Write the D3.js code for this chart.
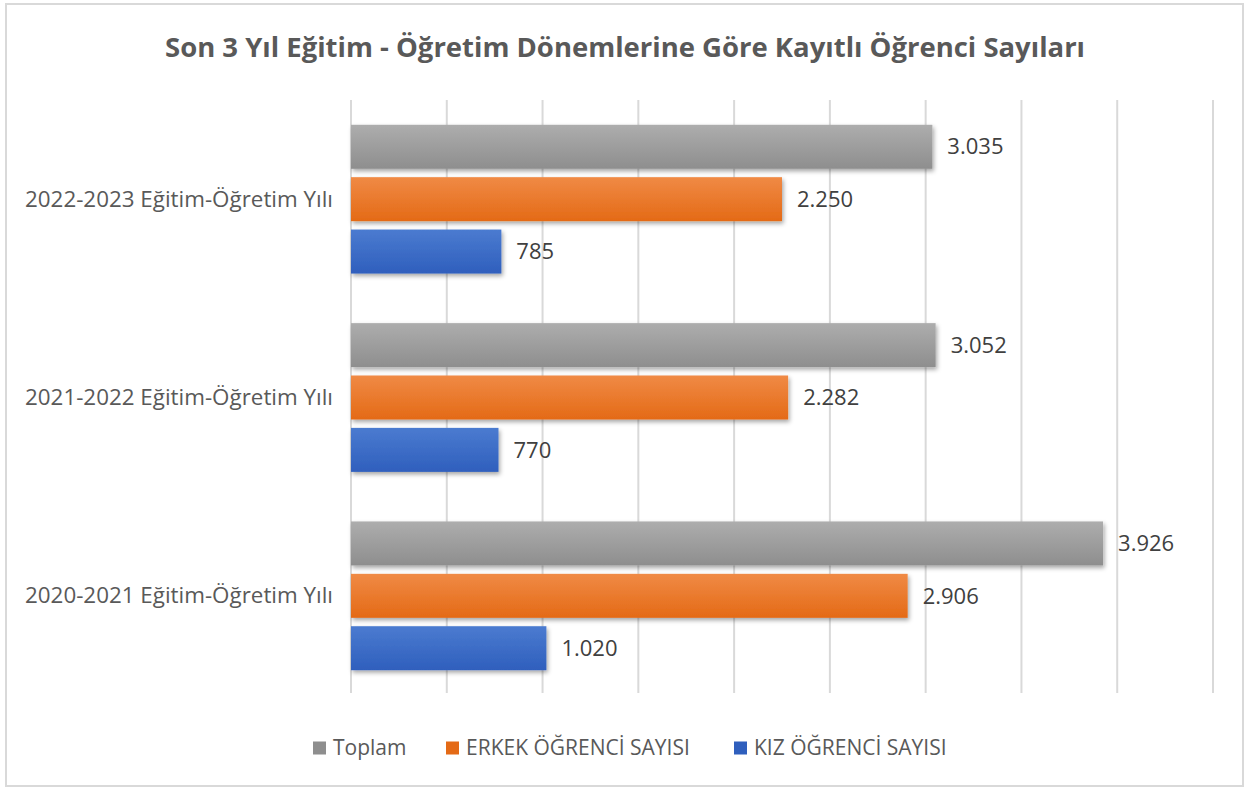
<!DOCTYPE html>
<html>
<head>
<meta charset="utf-8">
<script src="https://cdn.jsdelivr.net/npm/d3@7"></script>
<style>
  body { margin: 0; background: #fff; }
  text { font-family: "Open Sans", sans-serif; }
</style>
</head>
<body>
<div id="chart"></div>
<script>
var categories = ["2022-2023 Eğitim-Öğretim Yılı", "2021-2022 Eğitim-Öğretim Yılı", "2020-2021 Eğitim-Öğretim Yılı"];
var seriesNames = ["Toplam", "ERKEK ÖĞRENCİ SAYISI", "KIZ ÖĞRENCİ SAYISI"];
var toplam = [3035, 3052, 3926];
var erkek = [2250, 2282, 2906];
var kiz = [785, 770, 1020];
var xTicks = [0, 500, 1000, 1500, 2000, 2500, 3000, 3500, 4000, 4500];

var W = 1248, H = 787;
var colors = [["#adadad", "#8e8e8e"], ["#f08a45", "#e46a16"], ["#4b7bd0", "#2f5fbd"]];

var svg = d3.select("#chart").append("svg")
    .attr("width", W)
    .attr("height", H)

var defs = svg.append("defs");
colors.forEach(function(c, i) {
    var g = defs.append("linearGradient").attr("id", "grad" + i)
        .attr("x1", 0).attr("y1", 0).attr("x2", 0).attr("y2", 1);
    g.append("stop").attr("offset", "0%").attr("stop-color", c[0]);
    g.append("stop").attr("offset", "100%").attr("stop-color", c[1]);
});
defs.append("filter").attr("id", "shadow")
    .attr("x", "-5%").attr("y", "-20%").attr("width", "110%").attr("height", "160%")
    .append("feDropShadow")
    .attr("dx", 1.5).attr("dy", 2.5).attr("stdDeviation", 2)
    .attr("flood-color", "#000").attr("flood-opacity", 0.35);

// outer frame
svg.append("rect")
    .attr("x", 6).attr("y", 4).attr("width", 1237).attr("height", 782)
    .attr("fill", "#fff").attr("stroke", "#d9d9d9").attr("stroke-width", 2)

svg.append("text")
    .attr("x", 625).attr("y", 57)
    .attr("text-anchor", "middle")
    .style("font-size", "26px").style("font-weight", "bold")
    .attr("textLength", 920).attr("lengthAdjust", "spacingAndGlyphs")
    .attr("fill", "#595959")
    .text("Son 3 Yıl Eğitim - Öğretim Dönemlerine Göre Kayıtlı Öğrenci Sayıları")

var x = d3.scaleLinear().domain([0, 4500]).range([351, 1213]);
var y0 = d3.scaleBand().domain(categories).range([100, 695]).paddingInner(0.25).paddingOuter(0.125);
var y1 = d3.scaleBand().domain(seriesNames).range([0, y0.bandwidth()]).paddingInner(0.16);

// gridlines
svg.append("g").selectAll("line")
    .data(xTicks)
    .enter().append("line")
    .attr("x1", function(d) { return x(d); })
    .attr("x2", function(d) { return x(d); })
    .attr("y1", 100).attr("y2", 693)
    .attr("stroke", "#d9d9d9").attr("stroke-width", 2)

// category labels
svg.append("g").selectAll("text")
    .data(categories)
    .enter().append("text")
    .attr("x", 333)
    .attr("y", function(d) { return y0(d) + y0.bandwidth() / 2; })
    .attr("dy", "0.35em")
    .attr("text-anchor", "end")
    .style("font-size", "21px")
    .attr("textLength", 308).attr("lengthAdjust", "spacingAndGlyphs")
    .attr("fill", "#595959")
    .text(function(d) { return d; })

var rows = categories.map(function(c, i) {
    return { cat: c, values: [toplam[i], erkek[i], kiz[i]] };
});

var fmt = function(v) { return d3.format(",")(v).replace(/,/g, "."); };

var groups = svg.append("g").selectAll("g")
    .data(rows)
    .enter().append("g")
    .attr("transform", function(d) { return "translate(0," + y0(d.cat) + ")"; })

var bars = groups.selectAll("g")
    .data(function(d) { return d.values.map(function(v, i) { return { s: seriesNames[i], i: i, v: v }; }); })
    .enter()

bars.append("rect")
    .attr("x", x(0))
    .attr("y", function(d) { return y1(d.s); })
    .attr("width", function(d) { return x(d.v) - x(0); })
    .attr("height", y1.bandwidth())
    .attr("fill", function(d) { return "url(#grad" + d.i + ")"; })
    .attr("filter", "url(#shadow)")

bars.append("text")
    .attr("x", function(d) { return x(d.v) + 15; })
    .attr("y", function(d) { return y1(d.s) + y1.bandwidth() / 2; })
    .attr("dy", "0.35em")
    .style("font-size", "22px")
    .attr("fill", "#404040")
    .text(function(d) { return fmt(d.v); })

// legend
var legendX = [313, 446, 734];
var legend = svg.append("g").selectAll("g")
    .data(seriesNames)
    .enter().append("g")
    .attr("transform", function(d, i) { return "translate(" + legendX[i] + ",748)"; })

legend.append("rect")
    .attr("x", 0).attr("y", -6.5).attr("width", 13).attr("height", 13)
    .attr("fill", function(d, i) { return colors[i][1]; })

legend.append("text")
    .attr("x", 20).attr("dy", "0.35em")
    .style("font-size", "21px")
    .attr("fill", "#595959")
    .text(function(d) { return d; })
</script>
</body>
</html>
